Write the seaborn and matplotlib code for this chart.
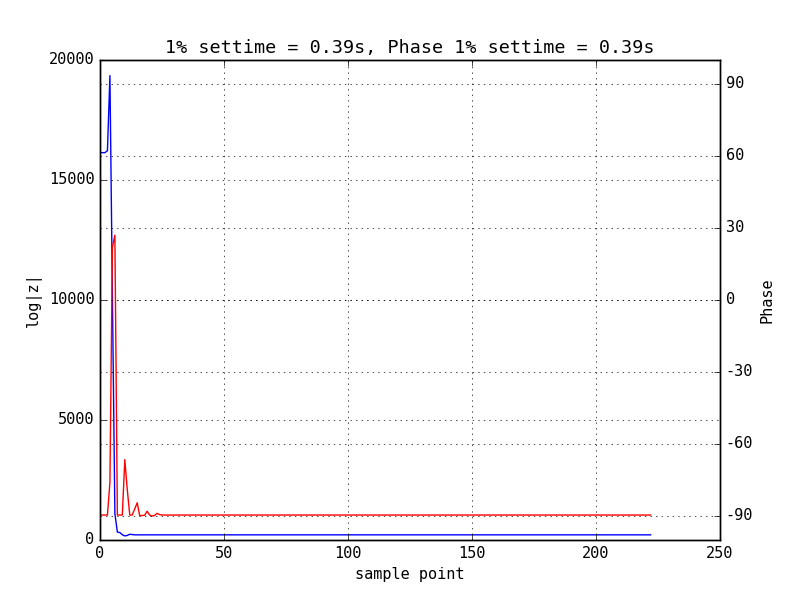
import numpy as np
import pandas as pd
import matplotlib
matplotlib.use("Agg")
import matplotlib.pyplot as plt
import seaborn as sns

# ── data ─────────────────────────────────────────────────
mag_head = [16140, 16140, 16140, 16220, 19350, 10300, 1100, 330, 310, 220,
            170, 190, 240, 225, 215]
mag_tail = [215] * (223 - len(mag_head))          # steady part of |z| curve
phase_head = [-89.6, -89.6, -89.6, -89.6, -76.0, 22.0, 27.0, -89.6, -89.6, -89.6,
              -66.5, -79.0, -89.6, -89.6, -87.0, -84.5, -89.8, -89.8, -89.7, -88.0,
              -89.6, -90.0, -89.8, -88.9, -89.4]
phase_tail = [-89.6] * (223 - len(phase_head))    # steady part of phase curve

magnitude = mag_head + mag_tail
phase = phase_head + phase_tail
samples = list(range(len(magnitude)))

df = pd.DataFrame({"sample": samples, "mag": magnitude, "phase": phase})

# ── plot ─────────────────────────────────────────────────
plt.style.use("classic")
plt.rcParams["font.family"] = ["DejaVu Sans Mono"]
plt.rcParams["font.size"] = 11
plt.rcParams["axes.unicode_minus"] = False
plt.rcParams["figure.facecolor"] = "white"
plt.rcParams["savefig.facecolor"] = "white"

fig, ax1 = plt.subplots(figsize=(8, 6), dpi=100)
sns.lineplot(data=df, x="sample", y="mag", ax=ax1, color="b", linewidth=1)
ax1.set_xlim(0, 250)
ax1.set_ylim(0, 20000)
ax1.set_yticks([0, 5000, 10000, 15000, 20000])
ax1.set_xlabel("sample point")
ax1.set_ylabel("log|z|")
ax1.grid(True, linestyle=":", color="black")

ax2 = ax1.twinx()
sns.lineplot(data=df, x="sample", y="phase", ax=ax2, color="r", linewidth=1)
ax2.set_ylim(-100, 100)
ax2.set_yticks([-90, -60, -30, 0, 30, 60, 90])
ax2.set_ylabel("Phase")
ax2.grid(True, linestyle=":", color="black")
ax2.set_xlim(0, 250)

ax1.set_title("1% settime = 0.39s, Phase 1% settime = 0.39s")

plt.savefig("out.png", dpi=100)
plt.close()
